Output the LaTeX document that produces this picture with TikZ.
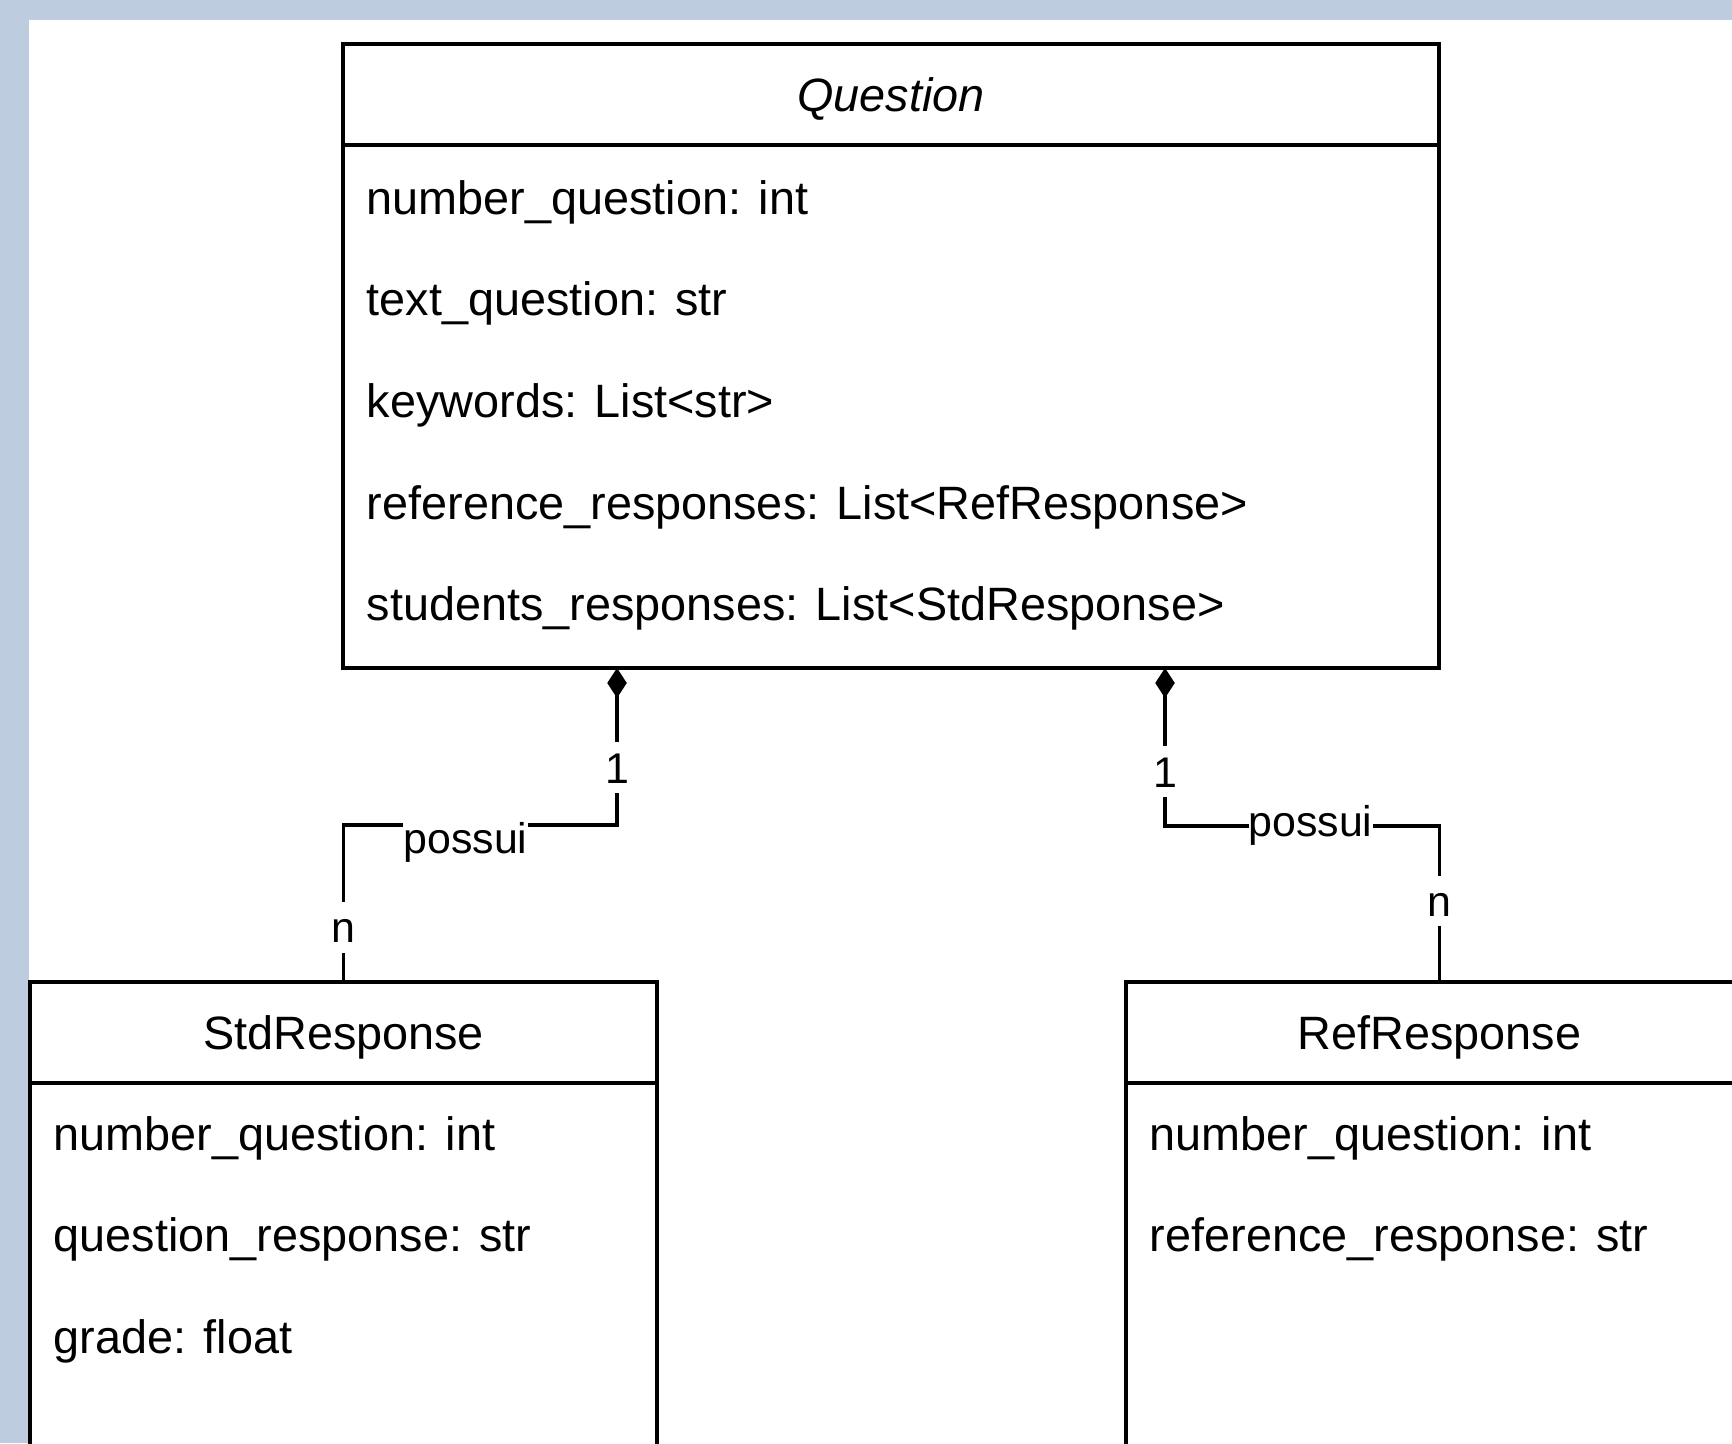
\documentclass[tikz,border=0pt]{standalone}
\usepackage{fontspec}
\setmainfont{Liberation Sans}
\usetikzlibrary{positioning,calc,arrows.meta}
\definecolor{pagebg}{RGB}{189,204,222}
\newcommand{\pxu}{0.2564pt}
\tikzset{
  umlhead/.style={draw, line width=0.8pt, anchor=north west, inner sep=0pt, outer sep=0pt,
    minimum height=101*\pxu, text height=10pt, text depth=1.2pt, font=\fontsize{12}{14}\selectfont},
  umlbody/.style={draw, line width=0.8pt, inner sep=0pt, outer sep=0pt, below=0pt of #1},
  attr/.style={anchor=base west, inner sep=0pt, font=\fontsize{12}{14}\selectfont},
  link/.style={line width=0.8pt, {Diamond[length=7.7pt,width=5pt]}-},
  mult/.style={fill=white, font=\fontsize{11}{13}\selectfont, inner sep=2.5pt, text height=8pt, text depth=0pt},
  role/.style={fill=white, font=\fontsize{11}{13}\selectfont, inner xsep=0pt, inner ysep=1pt, text height=8pt, text depth=2.5pt}
}
\begin{document}
\begin{tikzpicture}[x=0.2564pt,y=-0.2564pt]
\path[use as bounding box, clip] (0,0) rectangle (1732,1443);
\fill[pagebg] (0,0) rectangle (1732,1443);
\fill[white] (29,20) rectangle (1732,1443);
% Question
\node[umlhead, minimum width=1096*\pxu] (qhead) at (343,44) {\itshape Question};
\node[umlbody=qhead, minimum width=1096*\pxu, minimum height=523*\pxu] (qbody) {};
\node[attr] (qa1) at (366,215) {number\_question: int};
\node[attr] (qa2) at (366,316) {text\_question: str};
\node[attr] (qa3) at (366,418) {keywords: List<str>};
\node[attr] (qa4) at (366,519) {reference\_responses: List<RefResponse>};
\node[attr] (qa5) at (366,620) {students\_responses: List<StdResponse>};
% StdResponse
\node[umlhead, minimum width=627*\pxu] (stdhead) at (30,982) {StdResponse};
\node[umlbody=stdhead, minimum width=627*\pxu, minimum height=500*\pxu] (stdbody) {};
\node[attr] (sa1) at (53,1150) {number\_question: int};
\node[attr] (sa2) at (53,1251) {question\_response: str};
\node[attr] (sa3) at (53,1353) {grade: float};
% RefResponse
\node[umlhead, minimum width=627*\pxu] (refhead) at (1126,982) {RefResponse};
\node[umlbody=refhead, minimum width=627*\pxu, minimum height=500*\pxu] (refbody) {};
\node[attr] (ra1) at (1149,1150) {number\_question: int};
\node[attr] (ra2) at (1149,1251) {reference\_response: str};
% links
\coordinate (qleft) at ($(qbody.south west)!0.25!(qbody.south east)$);
\coordinate (qright) at ($(qbody.south west)!0.75!(qbody.south east)$);
\draw[link] (qleft) -- node[mult, pos=0.634] (m1) {1} ++(0,157)
  -| node[role, pos=0.277, yshift=-4.6pt] (r1) {possui} node[mult, pos=0.826] (m2) {n} (stdhead.north);
\draw[link] (qright) -- node[mult, pos=0.655] (m3) {1} ++(0,158)
  -| node[role, pos=0.265] (r2) {possui} node[mult, pos=0.74] (m4) {n} (refhead.north);
\end{tikzpicture}
\end{document}
